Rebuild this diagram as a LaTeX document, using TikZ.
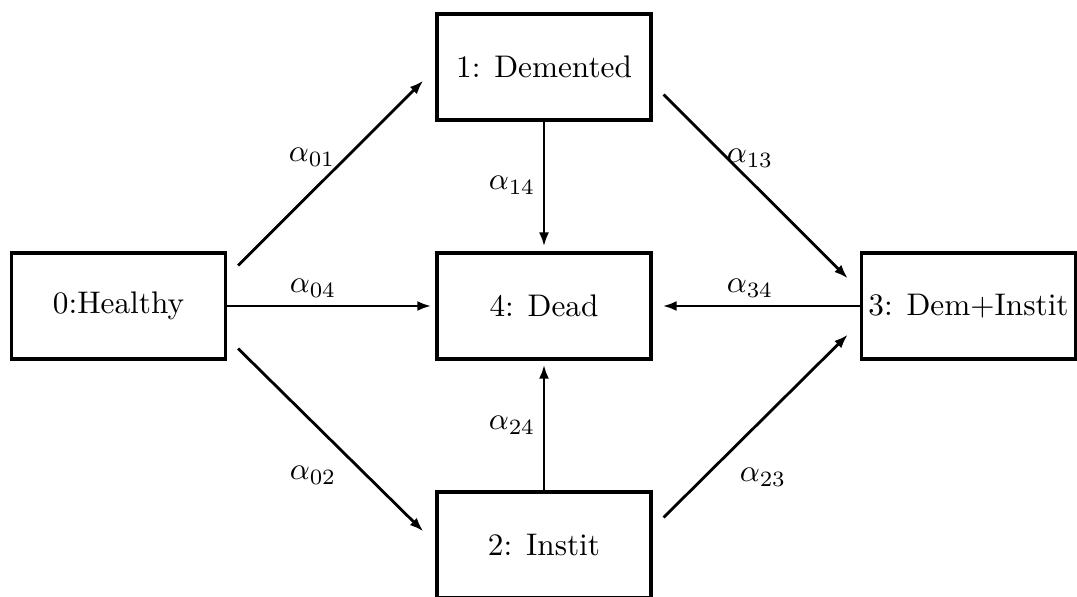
\documentclass[tikz,border=0pt]{standalone}
\usetikzlibrary{arrows.meta,calc}
\begin{document}
\begin{tikzpicture}[x=0.32pt,y=-0.32pt,
  statebox/.style={draw,line width=1pt,minimum width=68.5pt,minimum height=33.9pt,inner sep=0pt},
  arr/.style={line width=0.9pt,-{Latex[length=4.5pt,width=3.2pt]}},
  lab/.style={inner sep=0pt}]
\useasboundingbox (0,0) rectangle (1077,597);
\node[statebox] (H) at (118.5,306) {0:Healthy};
\node[statebox] (Dm) at (544,67) {1: Demented};
\node[statebox] (Dd) at (544,306) {4: Dead};
\node[statebox] (In) at (544,545) {2: Instit};
\node[statebox] (DI) at (968.5,306) {3: Dem+Instit};
% connectors
\draw[arr] ($(H.north east)+(11,14)$) -- ($(Dm.south west)+(-12,-41)$);
\draw[arr,shorten >=1.3pt] (H.east) -- (Dd.west);
\draw[arr] ($(H.south east)+(11,-12)$) -- ($(In.north west)+(-12,41)$);
\draw[arr,shorten >=1.6pt] (Dm.south) -- (Dd.north);
\draw[arr,shorten >=1.3pt] (In.north) -- (Dd.south);
\draw[arr] ($(Dm.south east)+(11,-27)$) -- ($(DI.north west)+(-12,27)$);
\draw[arr,shorten >=3.2pt] (DI.west) -- (Dd.east);
\draw[arr] ($(In.north east)+(11,27)$) -- ($(DI.south west)+(-12,-26)$);
% labels
\node[lab] (l01) at (312,157) {$\alpha_{01}$};
\node[lab] (l04) at (313,288) {$\alpha_{04}$};
\node[lab] (l02) at (313,475) {$\alpha_{02}$};
\node[lab] (l14) at (512,185) {$\alpha_{14}$};
\node[lab] (l24) at (512,425) {$\alpha_{24}$};
\node[lab] (l13) at (750,158) {$\alpha_{13}$};
\node[lab] (l34) at (750,288) {$\alpha_{34}$};
\node[lab] (l23) at (763,477) {$\alpha_{23}$};
\end{tikzpicture}
\end{document}
